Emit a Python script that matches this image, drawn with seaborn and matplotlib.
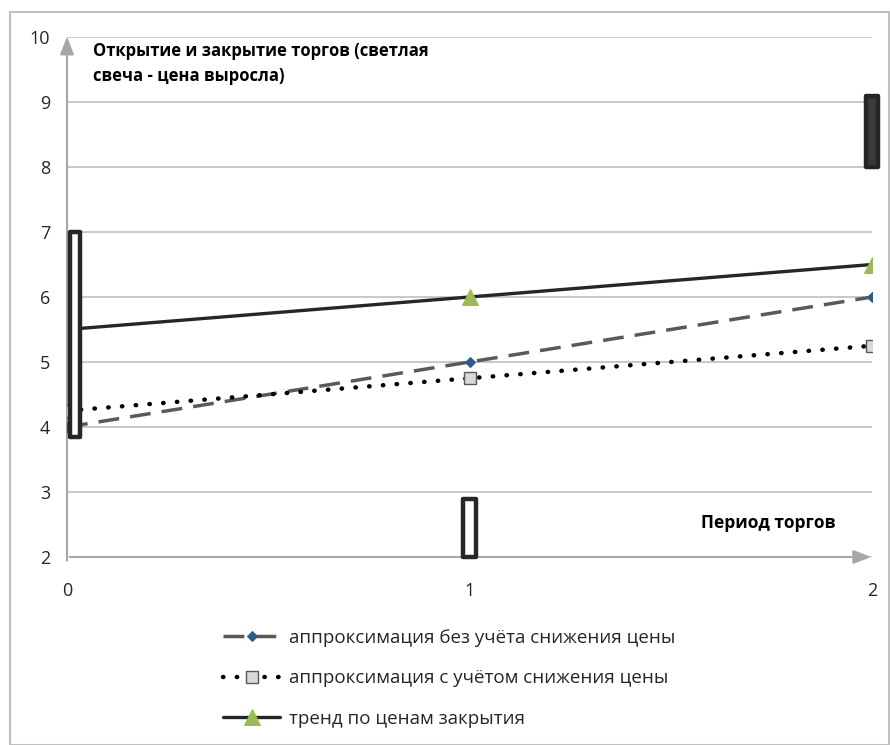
import matplotlib
matplotlib.use("Agg")
import matplotlib.pyplot as plt
import seaborn as sns
import pandas as pd
import numpy as np
from matplotlib.patches import Rectangle

# ---- data ----
periods = [0, 1, 2]
approx_no_drop = [4.0, 5.0, 6.0]
approx_with_drop = [4.25, 4.75, 5.25]
trend_close = [5.5, 6.0, 6.5]
candle_open = [3.85, 2.0, 9.1]
candle_close = [7.0, 2.9, 8.0]
y_ticks = [2, 3, 4, 5, 6, 7, 8, 9, 10]
x_ticks = [0, 1, 2]
labels = ["аппроксимация без учёта снижения цены",
          "аппроксимация с учётом снижения цены",
          "тренд по ценам закрытия"]
title_text = "Открытие и закрытие торгов (светлая\nсвеча - цена выросла)"
xlabel_text = "Период торгов"

sns.set_theme(style="white")
plt.rcParams['font.family'] = ['Open Sans', 'DejaVu Sans']

fig = plt.figure(figsize=(8.9, 7.45), dpi=100)
ax = fig.add_axes([67/890, 1-557/745, (872-67)/890, (557-37)/745])

df = pd.DataFrame({"x": periods, "a": approx_no_drop, "b": approx_with_drop, "c": trend_close})

sns.lineplot(data=df, x="x", y="a", ax=ax, color="#595959", lw=2.5, linestyle=(0, (6, 3.2)),
             marker="D", markersize=5, markerfacecolor="#2f5b8c", markeredgecolor="#2f5b8c",
             label=labels[0], zorder=3)
sns.lineplot(data=df, x="x", y="b", ax=ax, color="black", lw=3.2, linestyle=(0, (0.1, 3.0)),
             dash_capstyle="round",
             marker="s", markersize=9, markerfacecolor="#d9d9d9", markeredgecolor="#595959",
             markeredgewidth=1, label=labels[1], zorder=3)
sns.lineplot(data=df, x="x", y="c", ax=ax, color="#262626", lw=2.4,
             marker="^", markersize=11, markerfacecolor="#9bbb59", markeredgecolor="#9bbb59",
             label=labels[2], zorder=3)

# candles
widths = [0.026, 0.034, 0.032]
offsets = [0.02, 0.0, 0.0]
for p, o, c, off, w in zip(periods, candle_open, candle_close, offsets, widths):
    low, high = min(o, c), max(o, c)
    face = "white" if c > o else "#3a3a3a"
    r = Rectangle((p + off - w/2, low), w, high - low,
                  facecolor=face, edgecolor="#262626", lw=3.2, zorder=4, clip_on=False,
                  joinstyle="round")
    ax.add_patch(r)

ax.set_xlim(0, 2)
ax.set_ylim(2, 10)
ax.set_xticks(x_ticks)
ax.set_yticks(y_ticks)
ax.set_xticklabels([str(t) for t in x_ticks])
ax.set_yticklabels([str(t) for t in y_ticks])
ax.set_xlabel("")
ax.set_ylabel("")
ax.yaxis.grid(True, color="#bfbfbf", lw=1.2)
ax.xaxis.grid(False)
for s in ax.spines.values():
    s.set_visible(False)
ax.tick_params(axis="y", length=6, color="#a6a6a6", width=1.2, labelsize=13, labelcolor="#262626", pad=6)
ax.tick_params(axis="x", length=0, labelsize=13, labelcolor="#262626", pad=18)

# axis arrows
ax.annotate("", xy=(0, 10.05), xytext=(0, 1.9), xycoords="data",
            arrowprops=dict(arrowstyle="-|>,head_length=0.9,head_width=0.35", color="#a6a6a6", lw=1.5),
            annotation_clip=False, zorder=2)
ax.annotate("", xy=(2.005, 2), xytext=(0, 2), xycoords="data",
            arrowprops=dict(arrowstyle="-|>,head_length=0.9,head_width=0.35", color="#a6a6a6", lw=1.5),
            annotation_clip=False, zorder=2)

ax.text(0.065, 9.93, title_text, fontsize=12, fontweight="bold", va="top", ha="left",
        color="black", linespacing=1.5)
ax.text(1.91, 2.52, xlabel_text, fontsize=12.5, fontweight="bold", va="center", ha="right", color="black")

ax.get_legend().remove()
h, l = ax.get_legend_handles_labels()
fig.legend(h, l, loc="upper center", bbox_to_anchor=(0.505, 1 - 612/745), frameon=False,
           fontsize=13.5, handlelength=3.0, labelspacing=1.2, handletextpad=0.5,
           labelcolor="#262626")

fig.patches.append(Rectangle((10/890, 0), 879/890, 1-12/745, transform=fig.transFigure,
                             fill=False, edgecolor="#bfbfbf", lw=1.5))

fig.savefig("out.png", dpi=100, facecolor="white")
